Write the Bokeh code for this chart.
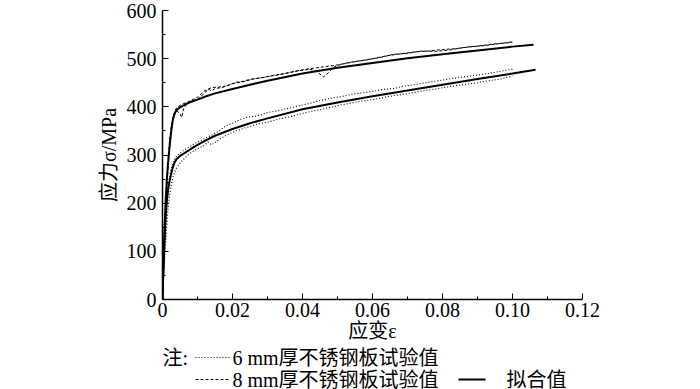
from bokeh.plotting import figure
from bokeh.layouts import column
from bokeh.models import Range1d, FixedTicker
from bokeh.core.properties import value
from bokeh.embed import file_html
from bokeh.resources import INLINE

# ---- data ----
fit8_e = [0, 0.0002, 0.0004, 0.0006, 0.0009, 0.0012, 0.0015, 0.0018, 0.0022, 0.0026, 0.003, 0.0035,
          0.004, 0.005, 0.0065, 0.008, 0.01, 0.0125, 0.015, 0.02, 0.025, 0.03, 0.04, 0.05, 0.06,
          0.07, 0.08, 0.09, 0.1, 0.106]
fit8_s = [0, 60, 110, 150, 205, 245, 275, 300, 330, 355, 375, 387,
          393, 399, 405, 410, 415, 422, 428, 437, 446, 454, 469, 481, 491,
          501, 509, 517, 525, 529]

fit6_e = [0, 0.0003, 0.0006, 0.0009, 0.0012, 0.0016, 0.002, 0.0025, 0.003, 0.0035, 0.004, 0.005,
          0.0065, 0.008, 0.01, 0.0125, 0.015, 0.02, 0.025, 0.03, 0.04, 0.05, 0.06, 0.07, 0.08,
          0.09, 0.1, 0.1066]
fit6_s = [0, 70, 125, 170, 200, 228, 245, 262, 276, 285, 291, 298,
          305, 312, 321, 331, 340, 354, 366, 376, 395, 409, 422, 434, 446,
          458, 469, 477]

t8a_e = [0, 0.0005, 0.001, 0.0015, 0.002, 0.0025, 0.003, 0.0035, 0.004, 0.005, 0.0055, 0.006, 0.007,
         0.008, 0.01, 0.012, 0.013, 0.014, 0.015, 0.017, 0.019, 0.021, 0.023, 0.025, 0.027, 0.03,
         0.033, 0.036, 0.039, 0.042, 0.044, 0.046, 0.047, 0.049, 0.051, 0.053, 0.056, 0.06, 0.064,
         0.068, 0.072, 0.076, 0.08, 0.084, 0.088, 0.092, 0.096, 0.1]
t8a_s = [0, 95, 190, 265, 320, 352, 372, 385, 392, 386, 378, 396, 406,
         411, 416, 428, 437, 433, 438, 440, 445, 451, 453, 457, 459, 463,
         466, 471, 475, 478, 474, 462, 468, 483, 488, 491, 495, 500, 506,
         510, 514, 516, 519, 521, 525, 527, 531, 534]

t8b_e = [0, 0.0005, 0.001, 0.0015, 0.002, 0.0025, 0.003, 0.0035, 0.004, 0.005, 0.006, 0.007, 0.008,
         0.01, 0.012, 0.014, 0.016, 0.018, 0.02, 0.023, 0.026, 0.029, 0.032, 0.035, 0.038, 0.041,
         0.044, 0.047, 0.05, 0.054, 0.058, 0.062, 0.066, 0.07, 0.074, 0.078, 0.082, 0.086, 0.09,
         0.094, 0.098, 0.1]
t8b_s = [0, 105, 200, 275, 330, 360, 378, 390, 398, 403, 407, 409, 413,
         420, 433, 440, 441, 443, 448, 452, 458, 461, 466, 469, 474, 478,
         481, 484, 487, 493, 497, 502, 509, 511, 516, 515, 518, 523, 526,
         530, 533, 535]

t6a_e = [0, 0.0005, 0.001, 0.0015, 0.002, 0.0025, 0.003, 0.0035, 0.004, 0.005, 0.006, 0.007, 0.008,
         0.009, 0.01, 0.012, 0.014, 0.015, 0.016, 0.018, 0.02, 0.022, 0.024, 0.026, 0.028, 0.03,
         0.033, 0.036, 0.039, 0.042, 0.045, 0.048, 0.051, 0.054, 0.057, 0.06, 0.063, 0.066, 0.069,
         0.072, 0.075, 0.078, 0.081, 0.084, 0.087, 0.09, 0.093, 0.096, 0.099, 0.1]
t6a_s = [0, 95, 170, 225, 255, 272, 283, 292, 298, 304, 309, 314, 318,
         323, 327, 334, 341, 345, 349, 360, 366, 373, 378, 380, 383, 388,
         392, 397, 402, 407, 413, 418, 421, 426, 429, 432, 436, 438, 443,
         446, 450, 453, 457, 460, 463, 466, 469, 473, 477, 478]

t6b_e = [0, 0.0005, 0.001, 0.0015, 0.002, 0.0025, 0.003, 0.0035, 0.004, 0.005, 0.006, 0.007, 0.008,
         0.009, 0.01, 0.012, 0.013, 0.014, 0.015, 0.017, 0.019, 0.021, 0.023, 0.025, 0.027, 0.03,
         0.033, 0.036, 0.039, 0.042, 0.045, 0.048, 0.051, 0.054, 0.057, 0.06, 0.063, 0.066, 0.069,
         0.072, 0.075, 0.078, 0.081, 0.084, 0.087, 0.09, 0.093, 0.096, 0.099, 0.1]
t6b_s = [0, 70, 130, 180, 215, 238, 254, 265, 273, 283, 291, 298, 304,
         309, 313, 320, 327, 321, 326, 336, 344, 350, 355, 359, 364, 368,
         374, 379, 384, 390, 394, 399, 404, 408, 412, 415, 419, 423, 426,
         430, 434, 437, 441, 444, 447, 450, 454, 457, 462, 464]

x_ticks = [0, 0.02, 0.04, 0.06, 0.08, 0.10, 0.12]
x_tick_labels = ["0", "0.02", "0.04", "0.06", "0.08", "0.10", "0.12"]
x_minor = [0.01, 0.03, 0.05, 0.07, 0.09, 0.11]
y_ticks = [0, 100, 200, 300, 400, 500, 600]
y_minor = [50, 150, 250, 350, 450, 550]

legend_texts = ["注:", "6 mm厚不锈钢板试验值", "8 mm厚不锈钢板试验值", "拟合值"]

SERIF = "Liberation Serif, Noto Sans CJK SC"
W, H = 700, 389
H1 = 344                               # main figure height; legend strip below
FL, FR, FT, FB = 162, 582, 10, 300     # frame edges in page pixels

p = figure(width=W, height=H1, output_backend="svg", toolbar_location=None,
           x_range=Range1d(0, 0.12), y_range=Range1d(0, 600),
           min_border_left=FL, min_border_right=W - FR, min_border_top=FT, min_border_bottom=H1 - FB)
p.outline_line_color = None
p.grid.visible = False

for e, s in [(t8a_e, t8a_s), (t8b_e, t8b_s)]:
    p.line(e, s, line_color="black", line_width=1, line_dash="3 2")
for e, s in [(t6a_e, t6a_s), (t6b_e, t6b_s)]:
    p.line(e, s, line_color="black", line_width=1.1, line_dash="1 2")
p.line(fit8_e, fit8_s, line_color="black", line_width=2)
p.line(fit6_e, fit6_s, line_color="black", line_width=2)

for ax in (p.xaxis[0], p.yaxis[0]):
    ax.axis_line_color = "black"
    ax.axis_line_width = 1.5
    ax.major_tick_in = 6
    ax.major_tick_out = 0
    ax.minor_tick_in = 3
    ax.minor_tick_out = 0
    ax.major_tick_line_color = "black"
    ax.minor_tick_line_color = "black"
    ax.major_label_text_font = "Liberation Serif"
    ax.major_label_text_font_size = "20px"
    ax.major_label_text_color = "black"
    ax.axis_label_text_font = SERIF
    ax.axis_label_text_font_size = "20px"
    ax.axis_label_text_font_style = "normal"
    ax.axis_label_text_color = "black"

p.xaxis[0].ticker = FixedTicker(ticks=x_ticks, minor_ticks=x_minor)
p.xaxis[0].major_label_overrides = {t: l for t, l in zip(x_ticks, x_tick_labels)}
p.xaxis[0].axis_label = "应变ε"
p.xaxis[0].axis_label_standoff = 0
p.xaxis[0].major_label_standoff = 3
p.yaxis[0].ticker = FixedTicker(ticks=y_ticks, minor_ticks=y_minor)
p.yaxis[0].axis_label = "应力σ/MPa"
p.yaxis[0].major_label_standoff = 6
p.yaxis[0].axis_label_standoff = 4

# ---- legend strip (its frame is aligned with the main frame; ranges are page pixels) ----
lg = figure(width=W, height=H - H1, output_backend="svg", toolbar_location=None,
            x_range=Range1d(FL, FR), y_range=Range1d(H, H1),
            min_border_left=FL, min_border_right=W - FR, min_border_top=0, min_border_bottom=0)
lg.axis.visible = False
lg.grid.visible = False
lg.outline_line_color = None

r1, r2 = 357, 379
LF = "20px"


def add_text(px, py, txt):
    lg.text(x=[px], y=[py], text=[txt], text_font=value(SERIF), text_font_size=LF,
            text_baseline="middle", text_align="left", text_color="black")


def add_line(px0, px1, py, dash, w):
    lg.line([px0, px1], [py, py], line_color="black", line_width=w, line_dash=dash)


add_text(162, r1, legend_texts[0])
add_line(195, 230, r1, "1 2", 1.1)
add_text(232, r1, legend_texts[1])
add_line(195, 230, r2, "3 2", 1)
add_text(232, r2, legend_texts[2])
add_line(458, 485, r2, "solid", 2)
add_text(506, r2, legend_texts[3])

layout = column(p, lg, spacing=0)
open("out.html", "w").write(file_html(layout, INLINE))
